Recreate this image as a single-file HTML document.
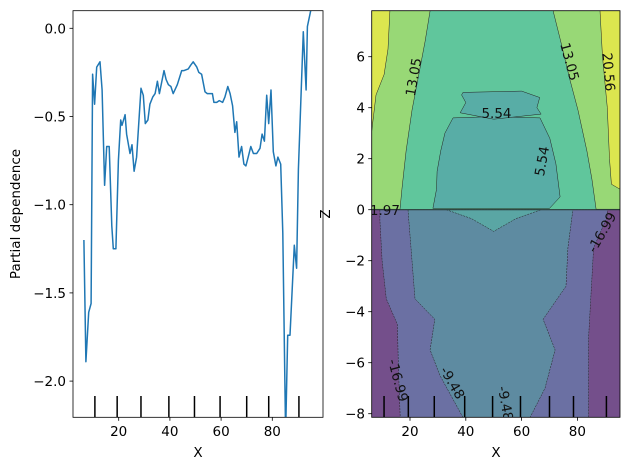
<!DOCTYPE html>
<html><head><meta charset="utf-8">
<style>
html,body{margin:0;padding:0;background:#fff;}
svg{display:block;font-family:"DejaVu Sans","Liberation Sans",sans-serif;}
</style></head>
<body>
<svg id="chart" width="630" height="470" viewBox="0 0 630 470" xmlns="http://www.w3.org/2000/svg">
<defs>
<clipPath id="clipL"><rect x="73" y="10.7" width="250" height="406.6"/></clipPath>
<clipPath id="clipR"><rect x="371.7" y="10.7" width="248.3" height="406.6"/></clipPath>
</defs>
<g id="left"></g>
<g id="right"></g>
</svg>
<script>
// ---- Left line chart data ----
const lineX = [6.4,7.2,8.3,9.2,9.8,10.6,11.4,12.7,13.5,14.5,15.3,16.3,17.3,17.9,18.9,19.9,20.8,21.3,22.5,23.1,24.4,25.2,26,27,28.7,29.6,30.4,31.4,32.2,33.3,34.2,35.1,35.9,37.7,38.5,39.4,40.4,41.3,42.9,44.6,45.5,47.2,48.1,49.1,50.5,51.3,52.4,53.7,54.6,55.7,56.6,57.2,58.3,59.3,60.6,61.5,62.6,63.5,64.5,65.4,66.1,67,68,68.9,69.7,70.6,71.6,72.6,73.9,75.2,76,76.9,77.8,78.6,79.5,80.4,81.4,82.2,83.3,84.1,85.2,86,86.9,88.6,89.5,90.2,92.1,93.2,93.7,95,96];
const lineY = [-1.2,-1.89,-1.61,-1.56,-0.26,-0.43,-0.22,-0.19,-0.35,-0.89,-0.67,-0.67,-1.12,-1.25,-1.25,-0.75,-0.52,-0.55,-0.49,-0.6,-0.71,-0.66,-0.81,-0.73,-0.34,-0.38,-0.54,-0.52,-0.43,-0.39,-0.37,-0.3,-0.37,-0.24,-0.29,-0.32,-0.33,-0.37,-0.32,-0.24,-0.24,-0.23,-0.21,-0.19,-0.22,-0.25,-0.26,-0.36,-0.37,-0.37,-0.37,-0.42,-0.42,-0.41,-0.42,-0.39,-0.33,-0.37,-0.44,-0.59,-0.53,-0.73,-0.67,-0.77,-0.78,-0.73,-0.67,-0.71,-0.71,-0.68,-0.6,-0.64,-0.38,-0.54,-0.35,-0.7,-0.78,-0.73,-0.77,-1.16,-2.3,-1.74,-1.74,-1.23,-1.36,-0.8,-0.02,-0.35,0.01,0.1,0.2];
const decileX = [10.7,19.4,28.7,39.6,49.6,59.6,70,78.6,90.4];
const leftXTicks = [20,40,60,80];
const leftYTicks = [0,-0.5,-1.0,-1.5,-2.0];
const leftYLabels = ["0.0","\u22120.5","\u22121.0","\u22121.5","\u22122.0"];

// ---- Right contour data (data coords: [x, z]) ----
const rightXTicks = [20,40,60,80];
const rightYTicks = [6,4,2,0,-2,-4,-6,-8];
const rightYLabels = ["6","4","2","0","\u22122","\u22124","\u22126","\u22128"];
const lgLeft = [[6.3,7.8],[27.2,7.8],[25.4,6.6],[22.8,5.1],[20.7,3.9],[18.6,2.3],[17.1,0.8],[16.4,0.02],[6.3,0.02]];
const yLeft = [[6.3,7.8],[12.8,7.8],[12.1,6.3],[10.7,5.3],[7.8,4.5],[6.3,3.1]];
const lgRight = [[71.3,7.8],[73.8,6.7],[77.3,5.1],[80.2,3.9],[83.4,2.3],[85.2,1.2],[86.7,0.02],[95.3,0.02],[95.3,7.8]];
const yRight = [[88.1,7.8],[89.0,6],[90.7,4],[91.5,2],[92.2,1],[95.3,0.8],[95.3,7.8]];
const tealIsland = [[39,4.6],[60,4.65],[66.5,4.4],[65.5,4.0],[67,3.75],[50,3.55],[38,3.8],[40,4.2],[38.5,4.5]];
const tealMain = [[35.4,3.6],[50,3.65],[66.6,3.6],[70.1,2.8],[72.3,1.8],[73.8,0.5],[70,0.05],[28.2,0.05],[29.5,0.8],[29.7,1.5],[31,2.3],[32.5,3]];
const tealLobe = [[33,0],[42,-0.35],[50,-0.85],[58,-0.35],[67,0]];
const purpleBlue = [[9.2,0],[9.2,-0.4],[10,-2],[11.5,-3.5],[15.5,-4.5],[15.8,-6],[16.5,-8.15],[84,-8.15],[84,-5],[85.8,-1.5],[90.6,-0.3],[90.8,0]];
const centerBlue = [[19.3,0],[20.7,-2],[21.8,-3.5],[28.9,-4.3],[27.2,-5.5],[30.7,-6.5],[39,-8.15],[63,-8.15],[68.4,-7],[72,-5.5],[67.7,-4.3],[75.9,-3],[76.6,-1.5],[78.4,0]];
const contourLabels = [["1.97",11,-0.05,0],["5.54",51,3.75,0],["5.54",67.5,1.9,-80],["13.05",21.5,5.2,-80],["13.05",77,5.8,75],["20.56",91,5.4,85],["-16.99",89,-0.9,-60],["-16.99",15.5,-6.7,75],["-9.48",35,-6.8,60],["-9.48",54,-7.6,80]];

const NS="http://www.w3.org/2000/svg";
const FS=13.5;
function mk(tag,attrs,parent){const e=document.createElementNS(NS,tag);for(const k in attrs)e.setAttribute(k,attrs[k]);parent.appendChild(e);return e;}

// Left scales
const lx = v => 67.5 + v*2.56;
const ly = v => 28.3 - v*176.4;
const L = document.getElementById('left');
const lineG = mk('g',{'clip-path':'url(#clipL)'},L);
let d='';
lineX.forEach((x,i)=>{d+=(i?'L':'M')+lx(x).toFixed(1)+','+ly(lineY[i]).toFixed(1);});
const ln = mk('path',{d:d,fill:'none',stroke:'#1f77b4','stroke-width':1.5,'stroke-linejoin':'round'},lineG);


decileX.forEach(v=>{
  const t=mk('line',{x1:lx(v),x2:lx(v),y1:396,y2:417.3,stroke:'#000','stroke-width':1.5},lineG);
  
  
});
const fr=mk('rect',{x:73,y:10.7,width:250,height:406.6,fill:'none',stroke:'#000','stroke-width':0.8},L);


leftXTicks.forEach(v=>{
  mk('line',{x1:lx(v),x2:lx(v),y1:417.3,y2:420.8,stroke:'#000','stroke-width':0.8},L);
  const t=mk('text',{x:lx(v),y:436,'font-size':FS,'text-anchor':'middle'},L);t.textContent=v;
  
  
});
leftYTicks.forEach((v,i)=>{
  mk('line',{x1:69.5,x2:73,y1:ly(v),y2:ly(v),stroke:'#000','stroke-width':0.8},L);
  const t=mk('text',{x:66,y:ly(v)+5,'font-size':FS,'text-anchor':'end'},L);t.textContent=leftYLabels[i];
  
  
});
let t=mk('text',{x:198,y:457,'font-size':FS,'text-anchor':'middle'},L);t.textContent='X';


t=mk('text',{x:0,y:0,'font-size':FS,'text-anchor':'middle',transform:'translate(20,214) rotate(-90)'},L);t.textContent='Partial dependence';



// Right scales
const rx = v => 354.2 + v*2.79;
const ry = v => 209.7 - v*25.5;
const R=document.getElementById('right');
const cg=mk('g',{'clip-path':'url(#clipR)'},R);
function poly(pts,fill,name,dash){
  const p=mk('polygon',{points:pts.map(q=>rx(q[0]).toFixed(1)+','+ry(q[1]).toFixed(1)).join(' '),fill:fill,stroke:'#222','stroke-width':0.5,'stroke-dasharray':dash||'none'},cg);
  
  
}
let bg=mk('rect',{x:371.7,y:10.7,width:248.3,height:ry(0)-10.7,fill:'#60c69c'},cg);


bg=mk('rect',{x:371.7,y:ry(0),width:248.3,height:417.3-ry(0),fill:'#744f8b'},cg);


poly(lgLeft,'#98d876','contour-13-left');
poly(yLeft,'#dce64f','contour-20-left');
poly(lgRight,'#98d876','contour-13-right');
poly(yRight,'#dce64f','contour-20-right');
poly(tealMain,'#58ada6','contour-5-main');
poly(tealIsland,'#58ada6','contour-5-island');
poly(purpleBlue,'#6b70a3','contour-neg16','2,1');
poly(centerBlue,'#5e8ba1','contour-neg9','2,1');
poly(tealLobe,'#5aa6a4','contour-lobe','2,1');
mk('line',{x1:371.7,x2:620,y1:ry(0),y2:ry(0),stroke:'#2a3a3a','stroke-width':1.2},cg);
contourLabels.forEach(c=>{
  const x=rx(c[1]),y=ry(c[2]);
  const e=mk('text',{x:0,y:0,'font-size':FS,'text-anchor':'middle','dominant-baseline':'middle',fill:'#111',transform:`translate(${x},${y}) rotate(${c[3]})`},cg);
  e.textContent=c[0];
  
  
});
decileX.forEach(v=>{
  const e=mk('line',{x1:rx(v),x2:rx(v),y1:396,y2:417.3,stroke:'#000','stroke-width':1.5},cg);
  
  
});
const fr2=mk('rect',{x:371.7,y:10.7,width:248.3,height:406.6,fill:'none',stroke:'#000','stroke-width':0.8},R);


rightXTicks.forEach(v=>{
  mk('line',{x1:rx(v),x2:rx(v),y1:417.3,y2:420.8,stroke:'#000','stroke-width':0.8},R);
  const e=mk('text',{x:rx(v),y:436,'font-size':FS,'text-anchor':'middle'},R);e.textContent=v;
  
  
});
rightYTicks.forEach((v,i)=>{
  mk('line',{x1:368.2,x2:371.7,y1:ry(v),y2:ry(v),stroke:'#000','stroke-width':0.8},R);
  const e=mk('text',{x:365,y:ry(v)+5,'font-size':FS,'text-anchor':'end'},R);e.textContent=rightYLabels[i];
  
  
});
t=mk('text',{x:496,y:457,'font-size':FS,'text-anchor':'middle'},R);t.textContent='X';


t=mk('text',{x:0,y:0,'font-size':FS,'text-anchor':'middle',transform:'translate(330,214) rotate(-90)'},R);t.textContent='Z';


</script>
</body></html>
